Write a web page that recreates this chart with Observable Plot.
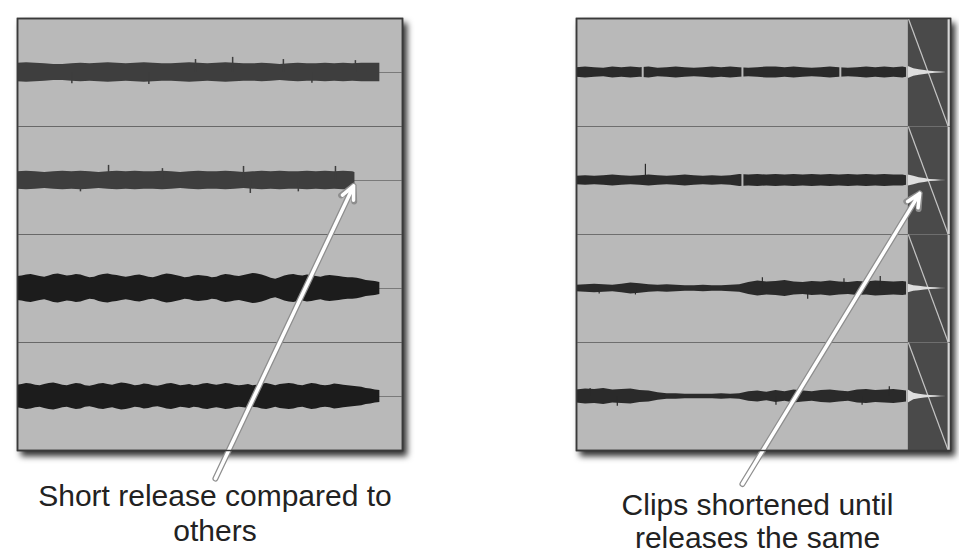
<!DOCTYPE html>
<html><head><meta charset="utf-8">
<script src="https://cdn.jsdelivr.net/npm/d3@7"></script>
<script src="https://cdn.jsdelivr.net/npm/@observablehq/plot@0.6"></script>
<style>
html,body{margin:0;padding:0;background:#fff;}
#chart{display:flex;width:959px;height:554px;overflow:hidden;}
#chart svg{display:block;}
</style></head><body><div id="chart"></div>
<script>
// ---------- data ----------
const tracks = [1, 2, 3, 4];
const laneBounds = [1, 2, 3];

// Left panel ("before"): clip end times (s), sample step (s), amplitude envelopes (1 = half lane)
const leftDomain = [0, 8.5];
const leftClipEnd = [8.0, 7.45, 8.0, 8.0];
const leftStep = [0.2, 0.2, 0.1, 0.1];
const leftAmp1 = [0.17,0.18,0.17,0.16,0.15,0.15,0.16,0.17,0.16,0.17,0.18,0.17,0.16,0.17,0.18,0.17,0.16,0.16,0.17,0.18,0.17,0.16,0.17,0.18,0.17,0.16,0.16,0.17,0.16,0.15,0.16,0.17,0.16,0.16,0.17,0.16,0.17,0.16,0.17,0.17,0.17];
const leftAmp2 = [0.16,0.17,0.16,0.15,0.16,0.17,0.16,0.17,0.16,0.15,0.16,0.17,0.16,0.17,0.16,0.16,0.17,0.16,0.15,0.16,0.17,0.16,0.16,0.17,0.16,0.15,0.16,0.17,0.16,0.17,0.16,0.16,0.17,0.16,0.17,0.16,0.17,0.16,0.15];
const leftAmp3 = [0.22,0.23,0.25,0.26,0.24,0.22,0.21,0.23,0.26,0.27,
  0.25,0.23,0.24,0.26,0.25,0.22,0.2,0.21,0.24,0.26,
  0.27,0.25,0.24,0.22,0.21,0.22,0.24,0.25,0.23,0.21,
  0.2,0.22,0.25,0.27,0.26,0.24,0.22,0.2,0.21,0.23,
  0.24,0.23,0.22,0.2,0.21,0.24,0.26,0.25,0.23,0.22,
  0.24,0.26,0.28,0.27,0.25,0.22,0.19,0.17,0.2,0.23,
  0.25,0.26,0.24,0.23,0.25,0.24,0.22,0.21,0.23,0.24,
  0.23,0.22,0.21,0.2,0.2,0.19,0.17,0.15,0.14,0.13,0.11];
const leftAmp4 = [0.21,0.22,0.24,0.23,0.21,0.2,0.22,0.24,0.25,0.23,
  0.21,0.2,0.22,0.24,0.23,0.2,0.19,0.21,0.23,0.24,
  0.22,0.21,0.23,0.25,0.24,0.22,0.2,0.21,0.23,0.22,
  0.2,0.19,0.21,0.23,0.24,0.22,0.2,0.21,0.22,0.2,
  0.21,0.23,0.24,0.22,0.21,0.22,0.24,0.23,0.21,0.2,
  0.21,0.22,0.2,0.21,0.23,0.24,0.22,0.2,0.22,0.23,
  0.24,0.23,0.21,0.2,0.22,0.24,0.23,0.21,0.2,0.21,
  0.23,0.22,0.21,0.2,0.19,0.18,0.17,0.15,0.14,0.12,0.11];
const leftAmps = [leftAmp1, leftAmp2, leftAmp3, leftAmp4];
const leftColors = ["#3e3e3e", "#3e3e3e", "#1c1c1c", "#1c1c1c"];
// spikes: [track, time, direction (+1 up / -1 down), amplitude]
const leftSpikes = [
  [1,1.2,-1,0.21],[1,2.9,-1,0.22],[1,3.93,1,0.24],[1,4.75,1,0.28],[1,5.87,1,0.24],[1,6.5,-1,0.2],[1,7.46,1,0.22],
  [2,1.39,-1,0.21],[2,2.01,1,0.28],[2,3.2,1,0.22],[2,4.99,1,0.26],[2,5.14,-1,0.24],[2,6.2,-1,0.21],[2,7.02,1,0.26]
];
const leftCaption = "Short release compared to\nothers";
const leftArrow = [{x1: 4.37, y1: 4.26, x2: 7.42, y2: 1.55}];

// Right panel ("after"): clips shortened so releases line up
const rightDomain = [0, 8.25];
const rightBodyEnd = 7.28;
const rightStep = 0.2;
const fadeStart = 7.32, fadeEnd = 8.2;
const rightAmp1 = [0.09,0.1,0.09,0.08,0.1,0.09,0.1,0.09,0.1,0.08,0.09,0.1,0.09,0.08,0.09,0.1,0.09,0.1,0.09,0.08,0.09,0.1,0.1,0.09,0.1,0.09,0.08,0.09,0.1,0.09,0.08,0.09,0.1,0.09,0.1,0.09,0.1,0.09];
const rightAmp2 = [0.08,0.09,0.08,0.09,0.1,0.09,0.08,0.09,0.1,0.09,0.08,0.09,0.1,0.09,0.08,0.09,0.08,0.09,0.11,0.1,0.11,0.1,0.11,0.1,0.11,0.1,0.11,0.1,0.11,0.1,0.11,0.1,0.11,0.1,0.11,0.1,0.1,0.09];
const rightAmp3 = [0.06,0.07,0.08,0.07,0.06,0.08,0.1,0.09,0.07,0.06,0.07,0.06,0.05,0.05,0.06,0.05,0.05,0.06,0.07,0.11,0.14,0.12,0.13,0.15,0.12,0.11,0.13,0.12,0.14,0.12,0.11,0.13,0.12,0.14,0.13,0.12,0.13,0.12];
const rightAmp4 = [0.12,0.14,0.13,0.15,0.12,0.13,0.14,0.11,0.1,0.07,0.05,0.05,0.04,0.04,0.04,0.04,0.05,0.04,0.05,0.09,0.1,0.08,0.11,0.09,0.12,0.1,0.09,0.11,0.12,0.1,0.09,0.12,0.13,0.11,0.12,0.13,0.11,0.1];
const rightAmps = [rightAmp1, rightAmp2, rightAmp3, rightAmp4];
// release tails inside the fade region
const tailStep = 0.12;
const rightTail1 = [0.11,0.07,0.05,0.035,0.025,0.015,0.008,0];
const rightTail2 = [0.1,0.08,0.05,0.035,0.02,0.012,0.006,0];
const rightTail3 = [0.08,0.05,0.04,0.03,0.02,0.012,0.006,0];
const rightTail4 = [0.12,0.06,0.04,0.03,0.02,0.012,0.006,0];
const rightTails = [rightTail1, rightTail2, rightTail3, rightTail4];
// edit points (clip boundaries)
const rightEdits = [[1,1.46],[1,3.66],[1,5.82],[2,3.66]];
const rightSpikes = [
  [2,1.52,1,0.3],
  [3,0.5,-1,0.1],[3,1.3,-1,0.12],[3,4.1,1,0.2],[3,5.1,-1,0.2],[3,5.9,1,0.18],[3,6.7,1,0.22],
  [4,0.3,1,0.15],[4,0.9,-1,0.18],[4,4.4,-1,0.16],[4,6.3,-1,0.16],[4,6.9,1,0.18]
];
const rightCaption = "Clips shortened until\nreleases the same";
const rightArrow = [{x1: 3.66, y1: 4.31, x2: 7.57, y2: 1.62}];

// ---------- styles ----------
const panelFill = "#b9b9b9";
const font = "'Liberation Sans', Arial, Helvetica, sans-serif";

function samples(amps, stp, end, track, t0 = 0) {
  return amps.map((a, i) => ({track, t: Math.min(t0 + i * stp, end), a}));
}
const center = (tr) => tr - 0.5;
function spikeRows(list) { return list.map(([track, t, dir, a]) => ({track, t, dir, a})); }

function shadow(svg) {
  const g = svg.querySelector('[aria-label="frame"]');
  if (g) g.style.filter = "drop-shadow(4px 5px 3px rgba(0,0,0,0.8))";
  return svg;
}

// ---------- left panel ----------
const leftWave = tracks.flatMap((tr, k) => samples(leftAmps[k], leftStep[k], leftClipEnd[k], tr));
const left = Plot.plot({
  width: 480, height: 554,
  marginLeft: 17, marginRight: 78, marginTop: 18, marginBottom: 104,
  x: {domain: leftDomain, axis: null},
  y: {domain: [0, 4], reverse: true, axis: null},
  color: {type: "identity"},
  style: {fontFamily: font, background: "transparent", overflow: "visible"},
  marks: [
    Plot.frame({fill: panelFill, stroke: "#3a3a3a", strokeWidth: 1.5}),
    Plot.ruleY(tracks, {y: center, stroke: "#7a7a7a", strokeWidth: 1}),
    Plot.ruleY(laneBounds, {stroke: "#686868", strokeWidth: 1}),
    Plot.areaY(leftWave, {x: "t", y1: d => center(d.track) - d.a * 0.5, y2: d => center(d.track) + d.a * 0.5,
      z: "track", fill: d => leftColors[d.track - 1]}),
    Plot.ruleX(spikeRows(leftSpikes), {x: "t", y1: d => center(d.track), y2: d => center(d.track) - d.dir * d.a * 0.5,
      stroke: d => leftColors[d.track - 1], strokeWidth: 1.5}),
    Plot.arrow(leftArrow, {x1: "x1", y1: "y1", x2: "x2", y2: "y2", stroke: "#8e8e8e", strokeWidth: 6,
      headLength: 3.9, headAngle: 55, strokeLinecap: "round", strokeLinejoin: "round"}),
    Plot.arrow(leftArrow, {x1: "x1", y1: "y1", x2: "x2", y2: "y2", stroke: "#ffffff", strokeWidth: 3.5,
      headLength: 6.2, headAngle: 50, strokeLinecap: "round", strokeLinejoin: "round"}),
    Plot.text([leftCaption], {text: d => d, frameAnchor: "bottom", dx: 5, dy: 31, lineAnchor: "top",
      fontSize: 30, lineHeight: 1.16, fill: "#222", fontFamily: font}),
    Plot.frame({stroke: "#3a3a3a", strokeWidth: 1.5})
  ]
});

// ---------- right panel ----------
const rightWave = tracks.flatMap((tr, k) => samples(rightAmps[k], rightStep, rightBodyEnd, tr));
const rightTail = tracks.flatMap((tr, k) => samples(rightTails[k], tailStep, fadeEnd, tr, fadeStart));
const right = Plot.plot({
  width: 479, height: 554,
  marginLeft: 96, marginRight: 9, marginTop: 18, marginBottom: 104,
  x: {domain: rightDomain, axis: null},
  y: {domain: [0, 4], reverse: true, axis: null},
  style: {fontFamily: font, background: "transparent", overflow: "visible"},
  marks: [
    Plot.frame({fill: panelFill, stroke: "#3a3a3a", strokeWidth: 1.5}),
    Plot.rect(tracks, {x1: fadeStart, x2: fadeEnd, y1: d => d - 1, y2: d => d, fill: "#4a4a4a"}),
    Plot.rect(tracks, {x1: fadeEnd, x2: rightDomain[1], y1: d => d - 1, y2: d => d, fill: "#d6d6d6"}),
    Plot.ruleY(laneBounds, {stroke: "#6e6e6e", strokeWidth: 1}),
    Plot.link(tracks, {x1: fadeStart, y1: d => d - 1, x2: fadeEnd, y2: d => d, stroke: "#c4c4c4", strokeWidth: 1.2}),
    Plot.areaY(rightWave, {x: "t", y1: d => center(d.track) - d.a * 0.5, y2: d => center(d.track) + d.a * 0.5,
      z: "track", fill: "#2a2a2a"}),
    Plot.ruleX(spikeRows(rightSpikes), {x: "t", y1: d => center(d.track), y2: d => center(d.track) - d.dir * d.a * 0.5,
      stroke: "#2a2a2a", strokeWidth: 1.2}),
    Plot.ruleX(rightEdits, {x: d => d[1], y1: d => center(d[0]) - 0.08, y2: d => center(d[0]) + 0.08,
      stroke: panelFill, strokeWidth: 2}),
    Plot.areaY(rightTail, {x: "t", y1: d => center(d.track) - d.a * 0.5, y2: d => center(d.track) + d.a * 0.5,
      z: "track", fill: "#dedede"}),
    Plot.arrow(rightArrow, {x1: "x1", y1: "y1", x2: "x2", y2: "y2", stroke: "#8e8e8e", strokeWidth: 6,
      headLength: 3.9, headAngle: 55, strokeLinecap: "round", strokeLinejoin: "round"}),
    Plot.arrow(rightArrow, {x1: "x1", y1: "y1", x2: "x2", y2: "y2", stroke: "#ffffff", strokeWidth: 3.5,
      headLength: 6.2, headAngle: 50, strokeLinecap: "round", strokeLinejoin: "round"}),
    Plot.text([rightCaption], {text: d => d, frameAnchor: "bottom", dx: -6, dy: 41, lineAnchor: "top",
      fontSize: 30, lineHeight: 1.1, fill: "#222", fontFamily: font}),
    Plot.frame({stroke: "#3a3a3a", strokeWidth: 1.5})
  ]
});

const chart = document.getElementById("chart");
chart.append(shadow(left), shadow(right));
</script></body></html>
